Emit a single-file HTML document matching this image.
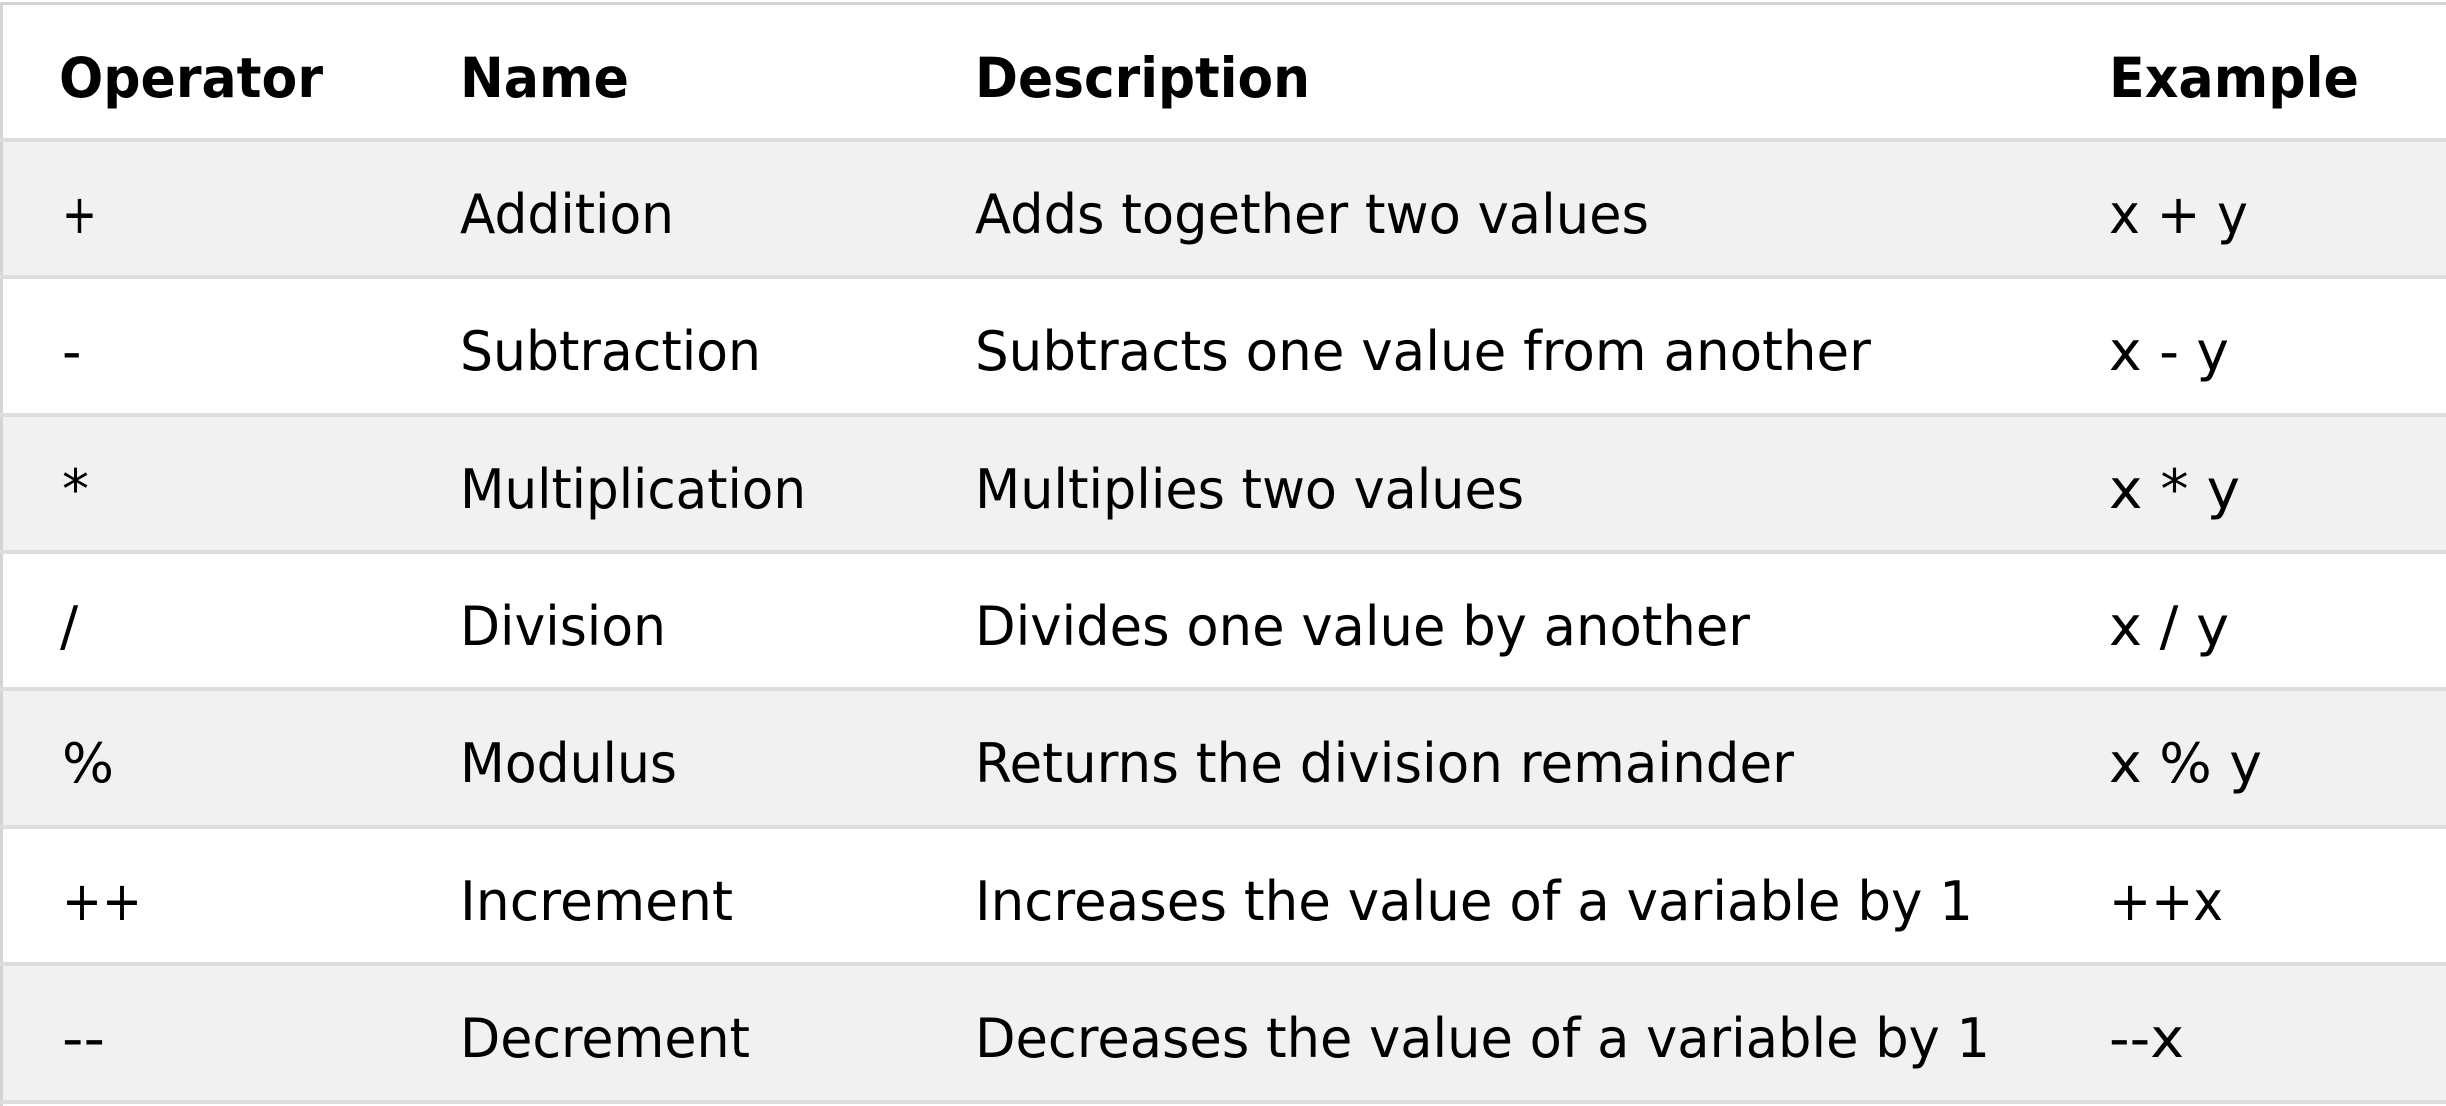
<!DOCTYPE html>
<html><head><meta charset="utf-8"><style>
html,body{margin:0;padding:0;background:#fff;}
svg{display:block;}
text{font-family:"DejaVu Sans","Liberation Sans",sans-serif;font-size:54px;fill:#000;}
.h{font-weight:bold;font-size:55px;}
</style></head><body>
<svg width="2446" height="1106" viewBox="0 0 2446 1106" xmlns="http://www.w3.org/2000/svg">
<rect x="0" y="0" width="2446" height="1106" fill="#fff"/>
<rect x="0" y="140" width="2446" height="137" fill="#f1f1f1"/>
<rect x="0" y="415" width="2446" height="137" fill="#f1f1f1"/>
<rect x="0" y="689" width="2446" height="137" fill="#f1f1f1"/>
<rect x="0" y="964" width="2446" height="138" fill="#f1f1f1"/>
<rect x="0" y="2" width="2446" height="3" fill="#d4d4d4"/>
<rect x="0" y="2" width="3" height="1104" fill="#d4d4d4"/>
<g fill="#dddddd">
<rect x="0" y="138" width="2446" height="4"/>
<rect x="0" y="275" width="2446" height="4"/>
<rect x="0" y="413" width="2446" height="4"/>
<rect x="0" y="550" width="2446" height="4"/>
<rect x="0" y="687" width="2446" height="4"/>
<rect x="0" y="825" width="2446" height="4"/>
<rect x="0" y="962" width="2446" height="4"/>
<rect x="0" y="1100" width="2446" height="4"/>
</g>
<text class="h" x="59" y="97" textLength="264" lengthAdjust="spacingAndGlyphs">Operator</text>
<text class="h" x="460" y="97" textLength="169" lengthAdjust="spacingAndGlyphs">Name</text>
<text class="h" x="975" y="97" textLength="335" lengthAdjust="spacingAndGlyphs">Description</text>
<text class="h" x="2109" y="97" textLength="250" lengthAdjust="spacingAndGlyphs">Example</text>
<text x="62" y="233" textLength="35" lengthAdjust="spacingAndGlyphs">+</text>
<text x="460" y="233" textLength="214" lengthAdjust="spacingAndGlyphs">Addition</text>
<text x="975" y="233" textLength="674" lengthAdjust="spacingAndGlyphs">Adds together two values</text>
<text x="2109" y="233" textLength="139" lengthAdjust="spacingAndGlyphs">x + y</text>
<text x="62" y="370">-</text>
<text x="460" y="370" textLength="301" lengthAdjust="spacingAndGlyphs">Subtraction</text>
<text x="975" y="370" textLength="896" lengthAdjust="spacingAndGlyphs">Subtracts one value from another</text>
<text x="2109" y="370" textLength="120" lengthAdjust="spacingAndGlyphs">x - y</text>
<text x="62" y="508" textLength="27" lengthAdjust="spacingAndGlyphs">*</text>
<text x="460" y="508" textLength="346" lengthAdjust="spacingAndGlyphs">Multiplication</text>
<text x="975" y="508" textLength="549" lengthAdjust="spacingAndGlyphs">Multiplies two values</text>
<text x="2109" y="508" textLength="131" lengthAdjust="spacingAndGlyphs">x * y</text>
<text x="60" y="645">/</text>
<text x="460" y="645" textLength="206" lengthAdjust="spacingAndGlyphs">Division</text>
<text x="975" y="645" textLength="775" lengthAdjust="spacingAndGlyphs">Divides one value by another</text>
<text x="2109" y="645" textLength="120" lengthAdjust="spacingAndGlyphs">x / y</text>
<text x="62" y="782" textLength="52" lengthAdjust="spacingAndGlyphs">%</text>
<text x="460" y="782" textLength="217" lengthAdjust="spacingAndGlyphs">Modulus</text>
<text x="975" y="782" textLength="819" lengthAdjust="spacingAndGlyphs">Returns the division remainder</text>
<text x="2109" y="782" textLength="153" lengthAdjust="spacingAndGlyphs">x % y</text>
<text x="62" y="920" textLength="80" lengthAdjust="spacingAndGlyphs">++</text>
<text x="460" y="920" textLength="273" lengthAdjust="spacingAndGlyphs">Increment</text>
<text x="975" y="920" textLength="998" lengthAdjust="spacingAndGlyphs">Increases the value of a variable by 1</text>
<text x="2109" y="920" textLength="114" lengthAdjust="spacingAndGlyphs">++x</text>
<text x="62" y="1057" textLength="43" lengthAdjust="spacingAndGlyphs">--</text>
<text x="460" y="1057" textLength="290" lengthAdjust="spacingAndGlyphs">Decrement</text>
<text x="975" y="1057" textLength="1015" lengthAdjust="spacingAndGlyphs">Decreases the value of a variable by 1</text>
<text x="2109" y="1057" textLength="75" lengthAdjust="spacingAndGlyphs">--x</text>
</svg>
</body></html>
